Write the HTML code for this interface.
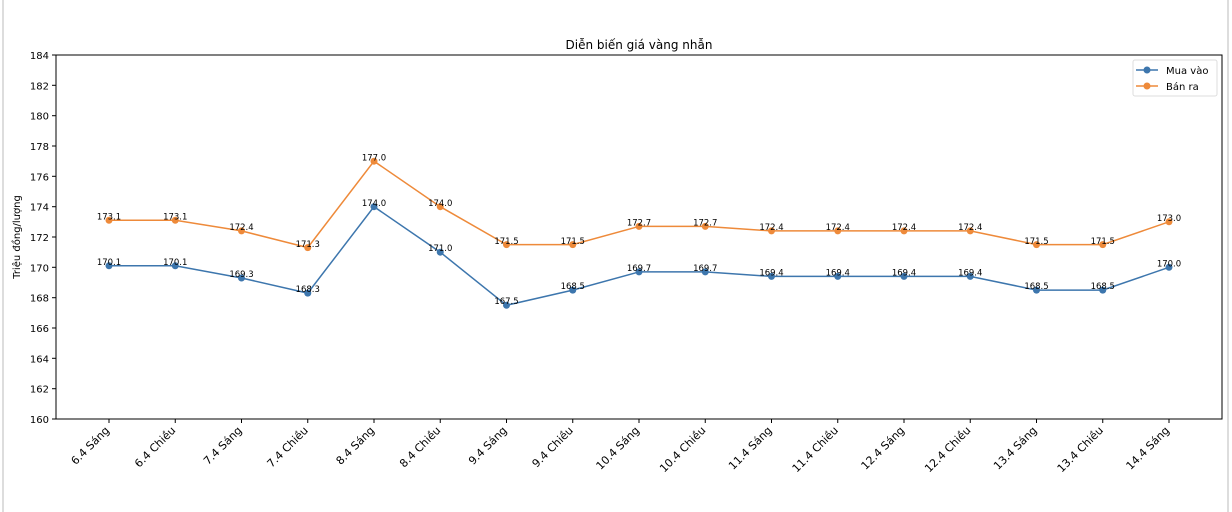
<!DOCTYPE html>
<html><head><meta charset="utf-8"><style>
body{margin:0;background:#fff}
svg{display:block;font-family:"DejaVu Sans","Liberation Sans",sans-serif}
</style></head><body>
<svg width="1232" height="512" viewBox="0 0 1232 512">
<rect x="0" y="0" width="1232" height="512" fill="#fff"/>
<line x1="3" y1="0" x2="3" y2="512" stroke="#ddd" stroke-width="2"/>
<line x1="1228" y1="0" x2="1228" y2="512" stroke="#ddd" stroke-width="2"/>
<text x="639" y="49" font-size="12" text-anchor="middle">Diễn biến giá vàng nhẫn</text>
<rect x="56" y="55" width="1166" height="364" fill="none" stroke="#000" stroke-width="1"/>
<g font-size="10" text-anchor="end" fill="#000">
<g stroke="#000"><line x1="52" y1="419" x2="56" y2="419"/><line x1="52" y1="388.7" x2="56" y2="388.7"/><line x1="52" y1="358.3" x2="56" y2="358.3"/><line x1="52" y1="328" x2="56" y2="328"/><line x1="52" y1="297.7" x2="56" y2="297.7"/><line x1="52" y1="267.3" x2="56" y2="267.3"/><line x1="52" y1="237" x2="56" y2="237"/><line x1="52" y1="206.7" x2="56" y2="206.7"/><line x1="52" y1="176.3" x2="56" y2="176.3"/><line x1="52" y1="146" x2="56" y2="146"/><line x1="52" y1="115.7" x2="56" y2="115.7"/><line x1="52" y1="85.3" x2="56" y2="85.3"/><line x1="52" y1="55" x2="56" y2="55"/></g>
<text x="49" y="423">160</text><text x="49" y="392.7">162</text><text x="49" y="362.3">164</text><text x="49" y="332">166</text><text x="49" y="301.7">168</text><text x="49" y="271.3">170</text><text x="49" y="241">172</text><text x="49" y="210.7">174</text><text x="49" y="180.3">176</text><text x="49" y="150">178</text><text x="49" y="119.7">180</text><text x="49" y="89.3">182</text><text x="49" y="59">184</text>
</g>
<text transform="translate(20,237) rotate(-90)" font-size="10" text-anchor="middle">Triệu đồng/lượng</text>
<g stroke="#000"><line x1="109" y1="419" x2="109" y2="423"/><line x1="175.25" y1="419" x2="175.25" y2="423"/><line x1="241.5" y1="419" x2="241.5" y2="423"/><line x1="307.75" y1="419" x2="307.75" y2="423"/><line x1="374" y1="419" x2="374" y2="423"/><line x1="440.25" y1="419" x2="440.25" y2="423"/><line x1="506.5" y1="419" x2="506.5" y2="423"/><line x1="572.75" y1="419" x2="572.75" y2="423"/><line x1="639" y1="419" x2="639" y2="423"/><line x1="705.25" y1="419" x2="705.25" y2="423"/><line x1="771.5" y1="419" x2="771.5" y2="423"/><line x1="837.75" y1="419" x2="837.75" y2="423"/><line x1="904" y1="419" x2="904" y2="423"/><line x1="970.25" y1="419" x2="970.25" y2="423"/><line x1="1036.5" y1="419" x2="1036.5" y2="423"/><line x1="1102.75" y1="419" x2="1102.75" y2="423"/><line x1="1169" y1="419" x2="1169" y2="423"/></g>
<g font-size="11" text-anchor="end">
<text transform="translate(110,431) rotate(-45)">6.4 Sáng</text>
<text transform="translate(176.25,431) rotate(-45)">6.4 Chiều</text>
<text transform="translate(242.5,431) rotate(-45)">7.4 Sáng</text>
<text transform="translate(308.75,431) rotate(-45)">7.4 Chiều</text>
<text transform="translate(375,431) rotate(-45)">8.4 Sáng</text>
<text transform="translate(441.25,431) rotate(-45)">8.4 Chiều</text>
<text transform="translate(507.5,431) rotate(-45)">9.4 Sáng</text>
<text transform="translate(573.75,431) rotate(-45)">9.4 Chiều</text>
<text transform="translate(640,431) rotate(-45)">10.4 Sáng</text>
<text transform="translate(706.25,431) rotate(-45)">10.4 Chiều</text>
<text transform="translate(772.5,431) rotate(-45)">11.4 Sáng</text>
<text transform="translate(838.75,431) rotate(-45)">11.4 Chiều</text>
<text transform="translate(905,431) rotate(-45)">12.4 Sáng</text>
<text transform="translate(971.25,431) rotate(-45)">12.4 Chiều</text>
<text transform="translate(1037.5,431) rotate(-45)">13.4 Sáng</text>
<text transform="translate(1103.75,431) rotate(-45)">13.4 Chiều</text>
<text transform="translate(1170,431) rotate(-45)">14.4 Sáng</text>
</g>
<polyline fill="none" stroke="#3d76ad" stroke-width="1.5" points="109,265.8 175.25,265.8 241.5,278 307.75,293.1 374,206.7 440.25,252.2 506.5,305.3 572.75,290.1 639,271.9 705.25,271.9 771.5,276.4 837.75,276.4 904,276.4 970.25,276.4 1036.5,290.1 1102.75,290.1 1169,267.3"/>
<polyline fill="none" stroke="#ee8a3a" stroke-width="1.5" points="109,220.3 175.25,220.3 241.5,230.9 307.75,247.6 374,161.2 440.25,206.7 506.5,244.6 572.75,244.6 639,226.4 705.25,226.4 771.5,230.9 837.75,230.9 904,230.9 970.25,230.9 1036.5,244.6 1102.75,244.6 1169,221.8"/>
<g fill="#3d76ad"><circle cx="109" cy="265.8" r="3.5"/><circle cx="175.25" cy="265.8" r="3.5"/><circle cx="241.5" cy="278" r="3.5"/><circle cx="307.75" cy="293.1" r="3.5"/><circle cx="374" cy="206.7" r="3.5"/><circle cx="440.25" cy="252.2" r="3.5"/><circle cx="506.5" cy="305.3" r="3.5"/><circle cx="572.75" cy="290.1" r="3.5"/><circle cx="639" cy="271.9" r="3.5"/><circle cx="705.25" cy="271.9" r="3.5"/><circle cx="771.5" cy="276.4" r="3.5"/><circle cx="837.75" cy="276.4" r="3.5"/><circle cx="904" cy="276.4" r="3.5"/><circle cx="970.25" cy="276.4" r="3.5"/><circle cx="1036.5" cy="290.1" r="3.5"/><circle cx="1102.75" cy="290.1" r="3.5"/><circle cx="1169" cy="267.3" r="3.5"/></g>
<g fill="#ee8a3a"><circle cx="109" cy="220.3" r="3.5"/><circle cx="175.25" cy="220.3" r="3.5"/><circle cx="241.5" cy="230.9" r="3.5"/><circle cx="307.75" cy="247.6" r="3.5"/><circle cx="374" cy="161.2" r="3.5"/><circle cx="440.25" cy="206.7" r="3.5"/><circle cx="506.5" cy="244.6" r="3.5"/><circle cx="572.75" cy="244.6" r="3.5"/><circle cx="639" cy="226.4" r="3.5"/><circle cx="705.25" cy="226.4" r="3.5"/><circle cx="771.5" cy="230.9" r="3.5"/><circle cx="837.75" cy="230.9" r="3.5"/><circle cx="904" cy="230.9" r="3.5"/><circle cx="970.25" cy="230.9" r="3.5"/><circle cx="1036.5" cy="244.6" r="3.5"/><circle cx="1102.75" cy="244.6" r="3.5"/><circle cx="1169" cy="221.8" r="3.5"/></g>
<g font-size="8.5" text-anchor="middle" fill="#000">
<text x="109" y="265">170.1</text><text x="175.25" y="265">170.1</text><text x="241.5" y="277">169.3</text><text x="307.75" y="292">168.3</text><text x="374" y="206">174.0</text><text x="440.25" y="251">171.0</text><text x="506.5" y="304">167.5</text><text x="572.75" y="289">168.5</text><text x="639" y="271">169.7</text><text x="705.25" y="271">169.7</text><text x="771.5" y="275.5">169.4</text><text x="837.75" y="275.5">169.4</text><text x="904" y="275.5">169.4</text><text x="970.25" y="275.5">169.4</text><text x="1036.5" y="289">168.5</text><text x="1102.75" y="289">168.5</text><text x="1169" y="266.5">170.0</text>
<text x="109" y="219.5">173.1</text><text x="175.25" y="219.5">173.1</text><text x="241.5" y="230">172.4</text><text x="307.75" y="247">171.3</text><text x="374" y="160.5">177.0</text><text x="440.25" y="206">174.0</text><text x="506.5" y="244">171.5</text><text x="572.75" y="244">171.5</text><text x="639" y="225.5">172.7</text><text x="705.25" y="225.5">172.7</text><text x="771.5" y="230">172.4</text><text x="837.75" y="230">172.4</text><text x="904" y="230">172.4</text><text x="970.25" y="230">172.4</text><text x="1036.5" y="244">171.5</text><text x="1102.75" y="244">171.5</text><text x="1169" y="221">173.0</text>
</g>
<rect x="1133" y="60" width="84" height="36" rx="2" fill="#fff" stroke="#ddd"/>
<line x1="1136" y1="70" x2="1158" y2="70" stroke="#3d76ad" stroke-width="1.5"/><circle cx="1147" cy="70" r="3.5" fill="#3d76ad"/>
<line x1="1136" y1="86" x2="1158" y2="86" stroke="#ee8a3a" stroke-width="1.5"/><circle cx="1147" cy="86" r="3.5" fill="#ee8a3a"/>
<text x="1166" y="74" font-size="10">Mua vào</text>
<text x="1166" y="90" font-size="10">Bán ra</text>
</svg>
</body></html>
